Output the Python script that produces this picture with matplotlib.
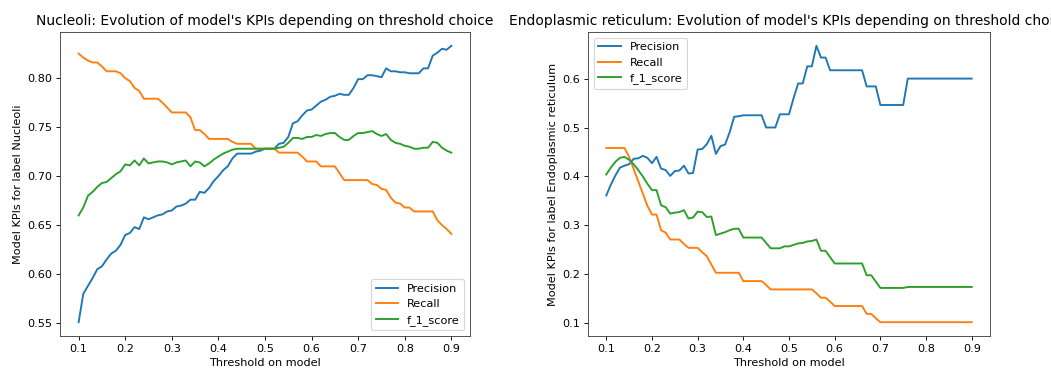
import matplotlib
matplotlib.use("Agg")
import matplotlib.pyplot as plt
import numpy as np

# seuils testés (pas de 0.01)
thresholds = np.round(np.arange(0.10, 0.905, 0.01), 2)

# Nucleoli
nuc_precision = [
    0.551, 0.580, 0.588, 0.596, 0.605, 0.608, 0.615, 0.621, 0.624, 0.630,
    0.640, 0.642, 0.648, 0.646, 0.658, 0.656, 0.658, 0.660, 0.661, 0.664,
    0.665, 0.669, 0.670, 0.672, 0.676, 0.676, 0.684, 0.683, 0.688, 0.695,
    0.700, 0.706, 0.710, 0.718, 0.723, 0.723, 0.723, 0.723, 0.725, 0.726,
    0.728, 0.728, 0.728, 0.733, 0.734, 0.740, 0.754, 0.756, 0.762, 0.767,
    0.768, 0.772, 0.776, 0.778, 0.781, 0.782, 0.784, 0.783, 0.783, 0.790,
    0.799, 0.799, 0.803, 0.803, 0.802, 0.801, 0.810, 0.807, 0.807, 0.806,
    0.806, 0.805, 0.805, 0.805, 0.810, 0.810, 0.823, 0.826, 0.830, 0.829,
    0.833,
]
nuc_recall = [
    0.825, 0.821, 0.818, 0.816, 0.816, 0.812, 0.807, 0.807, 0.807, 0.805,
    0.800, 0.797, 0.790, 0.787, 0.779, 0.779, 0.779, 0.779, 0.775, 0.770,
    0.765, 0.765, 0.765, 0.765, 0.760, 0.747, 0.747, 0.743, 0.738, 0.738,
    0.738, 0.738, 0.738, 0.735, 0.733, 0.733, 0.733, 0.733, 0.728, 0.728,
    0.728, 0.728, 0.728, 0.724, 0.724, 0.724, 0.724, 0.724, 0.720, 0.715,
    0.715, 0.715, 0.710, 0.710, 0.710, 0.710, 0.703, 0.696, 0.696, 0.696,
    0.696, 0.696, 0.696, 0.692, 0.691, 0.687, 0.686, 0.678, 0.673, 0.672,
    0.668, 0.668, 0.664, 0.664, 0.664, 0.664, 0.664, 0.655, 0.650, 0.646,
    0.641,
]
nuc_f1 = [
    0.660, 0.668, 0.680, 0.684, 0.689, 0.693, 0.694, 0.698, 0.702, 0.705,
    0.712, 0.711, 0.716, 0.711, 0.718, 0.713, 0.714, 0.715, 0.715, 0.714,
    0.712, 0.714, 0.715, 0.716, 0.710, 0.715, 0.714, 0.710, 0.713, 0.717,
    0.720, 0.723, 0.725, 0.727, 0.728, 0.728, 0.728, 0.728, 0.728, 0.728,
    0.728, 0.728, 0.728, 0.729, 0.730, 0.734, 0.739, 0.739, 0.738, 0.740,
    0.740, 0.742, 0.741, 0.743, 0.744, 0.744, 0.740, 0.737, 0.737, 0.741,
    0.744, 0.744, 0.745, 0.746, 0.743, 0.741, 0.743, 0.737, 0.734, 0.733,
    0.731, 0.730, 0.728, 0.728, 0.729, 0.729, 0.735, 0.734, 0.729, 0.726,
    0.724,
]

# Endoplasmic reticulum
er_precision = [
    0.361, 0.383, 0.402, 0.418, 0.422, 0.425, 0.436, 0.437, 0.442, 0.438,
    0.427, 0.440, 0.416, 0.413, 0.401, 0.411, 0.412, 0.422, 0.406, 0.407,
    0.455, 0.456, 0.466, 0.483, 0.446, 0.462, 0.465, 0.490, 0.522, 0.523,
    0.525, 0.525, 0.525, 0.525, 0.525, 0.500, 0.500, 0.500, 0.527, 0.527,
    0.527, 0.560, 0.590, 0.590, 0.625, 0.625, 0.667, 0.643, 0.643, 0.617,
    0.617, 0.617, 0.617, 0.617, 0.617, 0.617, 0.617, 0.584, 0.584, 0.584,
    0.546, 0.546, 0.546, 0.546, 0.546, 0.546, 0.600, 0.600, 0.600, 0.600,
    0.600, 0.600, 0.600, 0.600, 0.600, 0.600, 0.600, 0.600, 0.600, 0.600,
    0.600,
]
er_recall = [
    0.458, 0.458, 0.458, 0.458, 0.458, 0.440, 0.415, 0.390, 0.365, 0.340,
    0.322, 0.322, 0.290, 0.285, 0.271, 0.271, 0.271, 0.262, 0.254, 0.254,
    0.254, 0.245, 0.237, 0.220, 0.203, 0.203, 0.203, 0.203, 0.203, 0.203,
    0.186, 0.186, 0.186, 0.186, 0.186, 0.178, 0.169, 0.169, 0.169, 0.169,
    0.169, 0.169, 0.169, 0.169, 0.169, 0.169, 0.161, 0.152, 0.152, 0.144,
    0.135, 0.135, 0.135, 0.135, 0.135, 0.135, 0.135, 0.119, 0.119, 0.110,
    0.102, 0.102, 0.102, 0.102, 0.102, 0.102, 0.102, 0.102, 0.102, 0.102,
    0.102, 0.102, 0.102, 0.102, 0.102, 0.102, 0.102, 0.102, 0.102, 0.102,
    0.102,
]
er_f1 = [
    0.404, 0.418, 0.430, 0.438, 0.440, 0.434, 0.425, 0.413, 0.400, 0.385,
    0.372, 0.372, 0.341, 0.337, 0.324, 0.326, 0.327, 0.331, 0.314, 0.316,
    0.328, 0.327, 0.317, 0.318, 0.280, 0.283, 0.286, 0.290, 0.293, 0.293,
    0.275, 0.275, 0.275, 0.275, 0.275, 0.264, 0.253, 0.253, 0.253, 0.257,
    0.257, 0.260, 0.263, 0.264, 0.267, 0.268, 0.271, 0.248, 0.248, 0.235,
    0.222, 0.222, 0.222, 0.222, 0.222, 0.222, 0.222, 0.198, 0.198, 0.185,
    0.172, 0.172, 0.172, 0.172, 0.172, 0.172, 0.174, 0.174, 0.174, 0.174,
    0.174, 0.174, 0.174, 0.174, 0.174, 0.174, 0.174, 0.174, 0.174, 0.174,
    0.174,
]

labels = ["Nucleoli", "Endoplasmic reticulum"]
all_kpis = [
    (nuc_precision, nuc_recall, nuc_f1),
    (er_precision, er_recall, er_f1),
]
legend_pos = ["lower right", "upper left"]

fig = plt.figure(figsize=(1051 / 81, 371 / 81), dpi=81)
axes = [
    fig.add_axes([60 / 1051, 35 / 371, 410 / 1051, 304 / 371]),
    fig.add_axes([588 / 1051, 35 / 371, 402 / 1051, 304 / 371]),
]

for ax, label, (prec, rec, f1), loc in zip(axes, labels, all_kpis, legend_pos):
    ax.plot(thresholds, prec, label="Precision", lw=1.7)
    ax.plot(thresholds, rec, label="Recall", lw=1.7)
    ax.plot(thresholds, f1, label="f_1_score", lw=1.7)
    ax.set_title(label + ": Evolution of model's KPIs depending on threshold choice",
                 fontsize=12.3)
    ax.set_xlabel("Threshold on model")
    ax.set_ylabel("Model KPIs for label " + label)
    ax.set_xticks(np.round(np.arange(0.1, 0.95, 0.1), 1))
    for sp in ax.spines.values():
        sp.set_edgecolor("#444444")
    ax.legend(loc=loc)

fig.savefig("out.png", dpi=81)
